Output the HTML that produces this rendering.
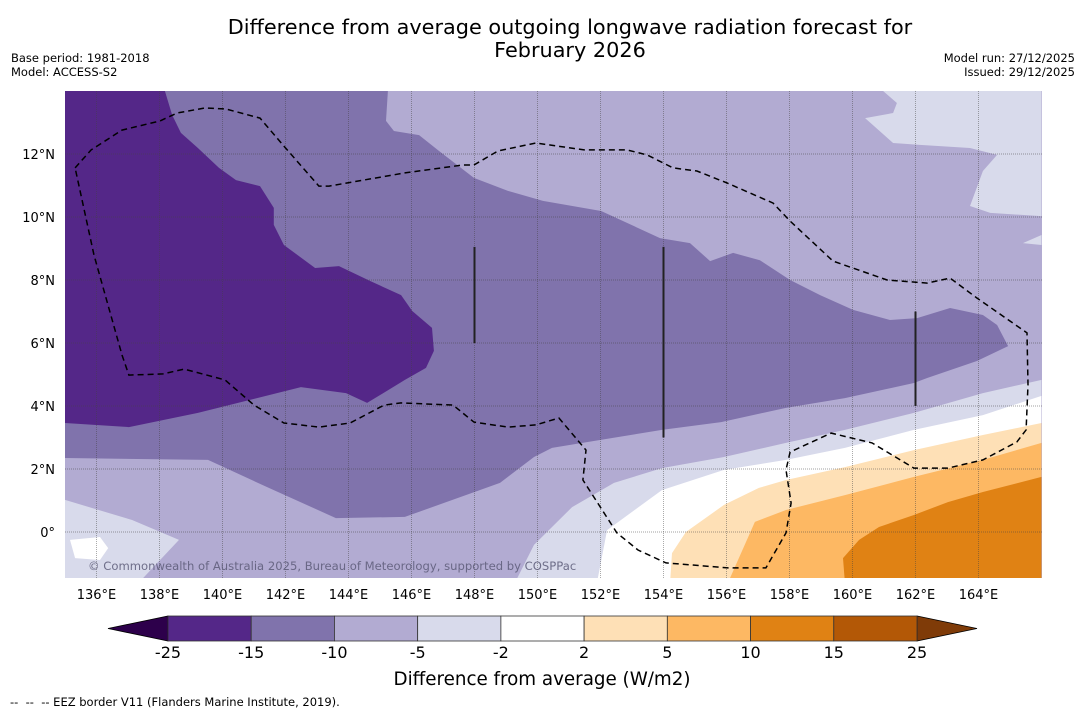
<!DOCTYPE html>
<html><head><meta charset="utf-8">
<style>
html,body{margin:0;padding:0;background:#fff;}
svg{display:block;font-family:"DejaVu Sans","Liberation Sans",sans-serif;}
</style></head>
<body>
<svg id="chart" width="1085" height="713" viewBox="0 0 1085 713" xmlns="http://www.w3.org/2000/svg">
<defs><clipPath id="mapclip"><rect x="65" y="91" width="977" height="487"/></clipPath></defs>
<text x="570" y="34" font-size="20.8" text-anchor="middle">Difference from average outgoing longwave radiation forecast for</text>
<text x="570" y="57" font-size="20.8" text-anchor="middle">February 2026</text>
<text x="11" y="62" font-size="11.5">Base period: 1981-2018</text>
<text x="11" y="76" font-size="11.5">Model: ACCESS-S2</text>
<text x="1075" y="62" font-size="11.5" text-anchor="end">Model run: 27/12/2025</text>
<text x="1075" y="76" font-size="11.5" text-anchor="end">Issued: 29/12/2025</text>
<g id="map" clip-path="url(#mapclip)"></g>
<g id="axes"></g>
<g id="cbar"></g>
<text x="542" y="685" font-size="18.3" text-anchor="middle">Difference from average (W/m2)</text>
<text x="10" y="706" font-size="11.5" xml:space="preserve">--  --  -- EEZ border V11 (Flanders Marine Institute, 2019).</text>
</svg>
<script>
const lonMin=135, latMax=14, pxPerDeg=31.5, mapX=65, mapY=91;
const lonTicks=[136,138,140,142,144,146,148,150,152,154,156,158,160,162,164];
const latTicks=[0,2,4,6,8,10,12];
const levelLabels=["-25","-15","-10","-5","-2","2","5","10","15","25"];
const levelColors=["#542788","#8073ac","#b2abd2","#d8daeb","#ffffff","#fee0b6","#fdb863","#e08214","#b35806"];
const bandMid=[[135,14],[145.25,14],[145.19,13.05],[145.44,12.73],[146.24,12.6],[146.87,12.1],[147.98,11.24],[149.06,10.83],[150.17,10.51],[152.02,10.19],[153.89,9.33],[154.84,9.17],[155.48,8.6],[156.21,8.86],[157.06,8.63],[158.02,8.0],[158.97,7.52],[160.02,7.05],[161.19,6.73],[162.05,6.79],[163.1,7.11],[164.14,6.89],[164.59,6.57],[164.94,5.9],[163.95,5.43],[162.37,4.89],[161.95,4.73],[159.76,4.25],[157.89,3.94],[155.83,3.49],[153.95,3.24],[151.98,2.92],[150.46,2.67],[149.89,2.38],[148.81,1.56],[145.79,0.48],[143.6,0.44],[141.41,1.43],[139.54,2.29],[135,2.35]];
const bandDark=[[135,14],[138.17,14],[138.4,13.24],[138.68,12.67],[139.22,12.19],[139.89,11.56],[140.43,11.17],[141.19,10.98],[141.63,10.29],[141.63,9.75],[141.95,9.11],[142.94,8.38],[143.7,8.44],[144.68,7.97],[145.67,7.52],[146.02,7.02],[146.65,6.48],[146.71,5.75],[146.46,5.21],[145.79,4.83],[144.59,4.1],[143.92,4.41],[142.49,4.6],[139.22,3.78],[137.03,3.33],[135,3.46]];
const bandLightTop=[[160.97,14],[161.41,13.62],[161.29,13.3],[160.4,13.14],[161.29,12.35],[162.14,12.29],[163.73,12.19],[164.59,11.97],[164.14,11.46],[163.73,10.35],[164.37,10.13],[166,10.03],[166,14]];
const bandLightPatch=[[166,9.43],[165.41,9.17],[166,9.11]];
const bandLightLL=[[135,1.02],[137.13,0.38],[138.62,-0.25],[137.35,-1.6],[135,-1.6]];
const bandWhiteLL=[[135.16,-0.25],[136.11,-0.16],[136.37,-0.51],[136.11,-0.89],[135.32,-0.83]];
const bandLightLR=[[149.29,-1.6],[149.89,-0.41],[151.1,0.79],[152.43,1.56],[153.95,2.03],[155.92,2.38],[157.89,2.83],[159.76,3.24],[161.95,3.78],[164.14,4.41],[166,4.83],[166,-1.6]];
const bandWhite=[[151.89,-1.6],[152.21,0.06],[153.95,1.33],[155.92,1.97],[157.89,2.29],[159.76,2.67],[161.95,3.24],[164.14,3.71],[166,4.32],[166,-1.6]];
const bandPeach=[[154.21,-1.6],[154.27,-0.67],[154.71,0],[155.92,0.86],[157.03,1.4],[157.89,1.65],[159.76,2.06],[161.95,2.6],[164.14,3.08],[166,3.46],[166,-1.6]];
const bandOrange=[[156.05,-1.6],[156.9,0.32],[157.89,0.7],[159.76,1.17],[161.95,1.75],[164.14,2.29],[166,2.83],[166,-1.6]];
const bandDarkOrange=[[159.76,-1.6],[159.7,-0.83],[160.21,-0.25],[160.84,0.16],[161.95,0.54],[163.03,0.95],[164.14,1.27],[166,1.75],[166,-1.6]];
const eezLine=[[135.32,11.56],[135.83,12.13],[136.81,12.76],[138.02,13.05],[138.56,13.3],[139.44,13.46],[140.11,13.43],[141.19,13.14],[141.95,12.25],[143.06,10.98],[143.38,10.98],[145.79,11.4],[147.63,11.65],[147.98,11.65],[148.75,12.1],[149.95,12.35],[151.48,12.13],[152.84,12.13],[153.48,11.97],[154.3,11.56],[155.06,11.46],[156.02,11.08],[157.48,10.44],[158.02,9.87],[159.38,8.6],[161.1,8.0],[162.37,7.9],[163.1,8.06],[163.95,7.43],[165.54,6.32],[165.57,4.67],[165.51,3.24],[165.22,2.86],[164.14,2.29],[163.03,2.03],[161.95,2.03],[160.62,2.83],[159.32,3.14],[158.02,2.54],[157.89,1.97],[158.05,0.92],[157.89,-0.03],[157.25,-1.14],[156.05,-1.14],[154.08,-0.98],[153.19,-0.57],[152.52,-0.03],[151.44,1.65],[151.54,2.6],[150.68,3.62],[149.95,3.4],[149.06,3.33],[147.98,3.49],[147.32,4.03],[145.67,4.1],[145.13,4.03],[144.05,3.46],[143.06,3.33],[141.95,3.46],[141.0,4.03],[140.08,4.83],[138.78,5.17],[138.11,5.02],[137.03,4.98],[136.81,5.62],[135.92,8.79],[135.32,11.56]];
const segLines=[[148,9.05,6.0],[154,9.05,3.0],[162,7.0,4.0]];

const NS="http://www.w3.org/2000/svg";
function xOf(lon){return mapX+(lon-lonMin)*pxPerDeg;}
function yOf(lat){return mapY+(latMax-lat)*pxPerDeg;}
function pts(a){return a.map(p=>xOf(p[0]).toFixed(1)+","+yOf(p[1]).toFixed(1)).join(" ");}
function mk(tag,attrs,parent){const e=document.createElementNS(NS,tag);for(const k in attrs)e.setAttribute(k,attrs[k]);parent.appendChild(e);return e;}
const map=document.getElementById("map");
let bg=mk("rect",{x:65,y:91,width:977,height:487,fill:"#b2abd2"},map);


const layers=[[bandMid,"#8073ac","band-minus10-to-minus15"],[bandDark,"#542788","band-minus15-to-minus25"],[bandLightTop,"#d8daeb","band-minus2-to-minus5-north"],[bandLightPatch,"#d8daeb","band-minus2-to-minus5-patch"],[bandLightLL,"#d8daeb","band-minus2-to-minus5-southwest"],[bandWhiteLL,"#ffffff","band-neutral-southwest"],[bandLightLR,"#d8daeb","band-minus2-to-minus5-southeast"],[bandWhite,"#ffffff","band-neutral"],[bandPeach,"#fee0b6","band-2-to-5"],[bandOrange,"#fdb863","band-5-to-10"],[bandDarkOrange,"#e08214","band-10-to-15"]];
layers.forEach(L=>{const p=mk("polygon",{points:pts(L[0]),fill:L[1]},map);

});
lonTicks.forEach(l=>{const g=mk("line",{x1:xOf(l),x2:xOf(l),y1:91,y2:578,stroke:"#444","stroke-width":0.9,"stroke-opacity":0.5,"stroke-dasharray":"1,1"},map);

});
latTicks.forEach(l=>{const g=mk("line",{x1:65,x2:1042,y1:yOf(l),y2:yOf(l),stroke:"#444","stroke-width":0.9,"stroke-opacity":0.5,"stroke-dasharray":"1,1"},map);

});
const eez=mk("polyline",{points:pts(eezLine),fill:"none",stroke:"#000","stroke-width":1.5,"stroke-dasharray":"6,4"},map);


segLines.forEach(s=>{const l=mk("line",{x1:xOf(s[0]),x2:xOf(s[0]),y1:yOf(s[1]),y2:yOf(s[2]),stroke:"#222","stroke-width":2},map);

});
const cr=mk("text",{x:88,y:570,"font-size":11.6,fill:"#5c5a78","fill-opacity":0.85},map);
cr.textContent="© Commonwealth of Australia 2025, Bureau of Meteorology, supported by COSPPac";


const axes=document.getElementById("axes");
lonTicks.forEach(l=>{const t=mk("text",{x:xOf(l),y:599,"font-size":13,"text-anchor":"middle"},axes);t.textContent=l+"°E";

});
latTicks.forEach(l=>{const t=mk("text",{x:55,y:yOf(l)+5,"font-size":13,"text-anchor":"end"},axes);t.textContent=l===0?"0°":l+"°N";

});
const cb=document.getElementById("cbar");
const cbX0=168,cbX1=917,cbY=616,cbH=25,n=levelColors.length,w=(cbX1-cbX0)/n;
const lt=mk("polygon",{points:`108,${cbY+cbH/2} ${cbX0},${cbY} ${cbX0},${cbY+cbH}`,fill:"#2d004b",stroke:"#000","stroke-width":0.8},cb);


const rt=mk("polygon",{points:`977,${cbY+cbH/2} ${cbX1},${cbY} ${cbX1},${cbY+cbH}`,fill:"#7f3b08",stroke:"#000","stroke-width":0.8},cb);


levelColors.forEach((c,i)=>{const r=mk("rect",{x:cbX0+i*w,y:cbY,width:w,height:cbH,fill:c,stroke:"#333","stroke-width":0.8},cb);

});
levelLabels.forEach((s,i)=>{const t=mk("text",{x:cbX0+i*w,y:658,"font-size":16,"text-anchor":"middle"},cb);t.textContent=s;

});
</script>
</body></html>
